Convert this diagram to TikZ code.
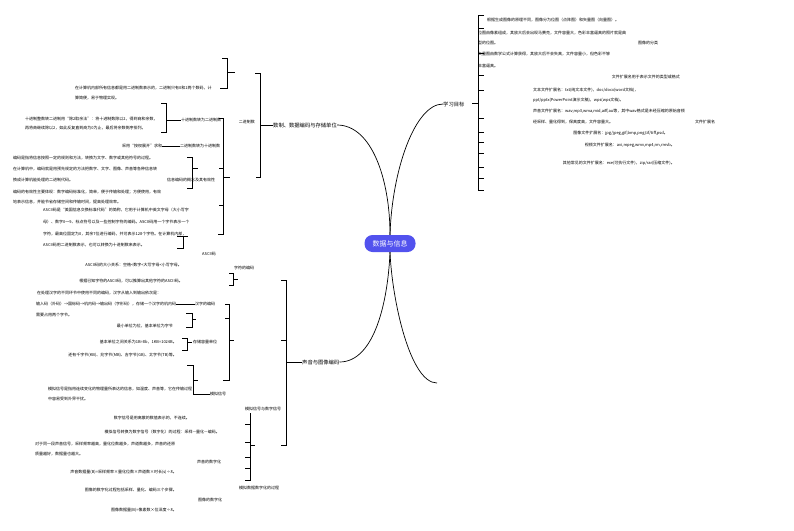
\documentclass[tikz,border=0pt]{standalone}
\usepackage{fontspec}
\setmainfont{Noto Sans CJK SC}
\definecolor{rootblue}{HTML}{5252EE}
\begin{document}
\begin{tikzpicture}[x=1pt,y=-1pt,
  t/.style={inner sep=0pt,font=\fontsize{4}{4.8}\selectfont},
  lone/.style={inner sep=0pt,font=\fontsize{5.3}{6}\selectfont},
  br/.style={line width=0.55pt,black},
  cv/.style={line width=0.7pt,black}]
\fill[white] (0,0) rectangle (794,530);
\useasboundingbox (0,0) rectangle (794,530);

% root
\node[fill=rootblue,text=white,rounded corners=8pt,minimum width=51pt,minimum height=17pt,inner sep=0pt,font=\fontsize{7}{8}\selectfont] (root) at (390,243.5) {数据与信息};

% level-1 topics
\node[lone,anchor=west] (shuzhi) at (273,125) {数制、数据编码与存储单位};
\node[lone,anchor=west] (mubiao) at (443,104) {学习目标};
\node[lone,anchor=west] (shengyin) at (302,362) {声音与图像编码};
\coordinate (empty) at (437,383);

\draw[cv] (root.north) .. controls (390,180) and (372,125) .. (shuzhi.east);
\draw[cv] (root.north) .. controls (392,170) and (415,104) .. (mubiao.west);
\draw[cv] (root.south) .. controls (388,300) and (375,362) .. (shengyin.east);
\draw[cv] (root.south) .. controls (392,300) and (410,383) .. (empty);

% ---------------- right side: 学习目标 ----------------
\draw[br] (484,15)--(478,15)--(478,190)--(484,190);
\foreach \yy in {28,53,75,90,118,132,142,153,167,178} \draw[br] (478,\yy)--(484,\yy);
\draw[br] (472,103)--(478,103);
\node[t,anchor=west] (r1) at (487,20) {根据生成图像的原理不同，图像分为位图（点阵图）和矢量图（向量图）。};
\node[t,anchor=west] (r2) at (478,33) {位图由像素组成，其放大后会出现马赛克，文件容量大，色彩丰富逼真的照片就是典};
\node[t,anchor=west] (r3) at (478,43) {型的位图。};
\node[t,anchor=west] (r4) at (638,43) {图像的分类};
\node[t,anchor=west] (r5) at (478,54) {矢量图由数学公式计算获得，其放大后不会失真，文件容量小，但色彩不够};
\node[t,anchor=west] (r6) at (478,66) {丰富逼真。};
\node[t,anchor=east] (r7) at (680,77) {文件扩展名用于表示文件的类型或格式};
\node[t,anchor=west] (r8) at (533,90) {文本文件扩展名：txt(纯文本文件)，doc/docx(word文档)，};
\node[t,anchor=west] (r9) at (533,100) {ppt/pptx(PowerPoint演示文稿)，wps(wps文档)。};
\node[t,anchor=west] (r10) at (533,111) {声音文件扩展名：wav,mp3,wma,mid,aiff,au等，其中wav格式是未经压缩的原始音频};
\node[t,anchor=west] (r11) at (533,122) {经采样、量化得到，保真度高，文件容量大。};
\node[t,anchor=west] (r12) at (695,122) {文件扩展名};
\node[t,anchor=east] (r13) at (668,133) {图像文件扩展名：jpg/jpeg,gif,bmp,png,tif/tiff,psd。};
\node[t,anchor=east] (r14) at (675,145) {视频文件扩展名：avi,mpeg,wmv,mp4,rm,rmvb。};
\node[t,anchor=east] (r15) at (675,163) {其他常见的文件扩展名：exe(可执行文件)，zip/rar(压缩文件)。};

% ---------------- left upper: 数制 ----------------
% bracket A
\draw[br] (222,58)--(227,58)--(227,88)--(220,88);
\draw[br] (227,72)--(235,72);
% bracket B
\draw[br] (255,73)--(260,73)--(260,177)--(256,177);
\draw[br] (260,125)--(shuzhi.west);
% bracket C
\draw[br] (161,103)--(166,103)--(166,132)--(161,132);
% bracket D
\draw[br] (219,118)--(223,118)--(223,234)--(218,234);
\draw[br] (219,168)--(223,168);
\draw[br] (219,205)--(223,205);
\draw[br] (223,177)--(230,177);
% bracket E
\draw[br] (187,157)--(192,157)--(192,188)--(187,188);
\draw[br] (192,168)--(198,168);
% bracket F
\draw[br] (177,236)--(188,236);
\draw[br] (183,236)--(183,248)--(177,248);

\node[t,anchor=west] (a1) at (75,88) {在计算机内部所有信息都是用二进制数表示的，二进制只有0和1两个数码，计};
\node[t,anchor=west] (a2) at (75,98.5) {算简便，易于物理实现。};
\node[t,anchor=east] (erjin) at (255,122) {二进制数};
\node[t,anchor=west] (c1) at (25,119) {十进制整数转二进制用“除2取余法”：将十进制数除以2，得到商和余数，};
\node[t,anchor=west] (c2) at (25,128.5) {再将商继续除以2，如此反复直到商为0为止，最后将余数倒序排列。};
\node[t,anchor=west] (shizhuan) at (181,120) {十进制数转为二进制数};
\draw[br] (166,120)--(shizhuan.west);
\node[t,anchor=west] (anquan) at (122,146) {采用“按权展开”求和};
\node[t,anchor=west] (erzhuan) at (180,146) {二进制数转为十进制数};
\draw[br] (anquan.east)--(erzhuan.west);
\node[t,anchor=west] (e1) at (13,158) {编码是指将信息按照一定的规则和方法，转换为文字、数字或其他符号的过程。};
\node[t,anchor=west] (e2) at (13,169) {在计算机中，编码就是用预先规定的方法把数字、文字、图像、声音等各种信息转};
\node[t,anchor=west] (e3) at (13,180) {换成计算机能处理的二进制代码。};
\node[t,anchor=west] (gainian) at (167,180) {信息编码的概念及其有效性};
\node[t,anchor=west] (e4) at (13,192) {编码的有效性主要体现：数字编码标准化，简单，便于传输和处理；方便使用，有效};
\node[t,anchor=west] (e5) at (13,202) {地表示信息，并能节省存储空间和传输时间，提高处理效率。};
\node[t,anchor=west] (f1) at (43,210) {ASCII码是“美国信息交换标准代码”的简称，它用于计算机中英文字母（大小写字};
\node[t,anchor=west] (f2) at (43,222) {母）、数字0～9、标点符号以及一些控制字符的编码。ASCII码用一个字节表示一个};
\node[t,anchor=west] (f3) at (43,234) {字符，最高位固定为0，其余7位进行编码，共可表示128个字符。在计算机内部，};
\node[t,anchor=west] (f4) at (43,245) {ASCII码用二进制数表示，也可以转换为十进制数来表示。};
\node[t,anchor=west] (ascii) at (202,254) {ASCII码};

% ---------------- left lower: 编码 ----------------
% bracket G
\draw[br] (229,273)--(233,273)--(233,285)--(229,285);
\draw[br] (233,279)--(238,279);
% bracket H
\draw[br] (281,280)--(286,280)--(286,445)--(281,445);
\draw[br] (281,340)--(286,340);
\draw[br] (286,362)--(shengyin.west);
% bracket I
\draw[br] (186,313)--(192,313)--(192,327)--(186,327);
\draw[br] (192,319)--(196,319);
% bracket J
\draw[br] (225,304)--(229,304)--(229,380)--(223,380);
\draw[br] (225,318)--(229,318);
\draw[br] (229,340)--(234,340);
% bracket K
\draw[br] (182,338)--(187,338)--(187,350)--(182,350);
\draw[br] (187,342)--(192,342);
% bracket L
\draw[br] (187,365)--(193,365)--(193,394);
\draw[br] (193,380)--(198,380);
% bracket M
\draw[br] (250,413)--(250,480)--(245,480);
\foreach \yy in {424,442,457,468} \draw[br] (245,\yy)--(250,\yy);
\draw[br] (250,445)--(255,445);

\node[t,anchor=east] (g1) at (182,265) {ASCII码的大小关系：空格<数字<大写字母<小写字母。};
\node[t,anchor=west] (zifu) at (234,268) {字符的编码};
\node[t,anchor=east] (g2) at (183,281) {根据已知字符的ASCII码，可以推算出其他字符的ASCII码。};
\node[t,anchor=west] (h1) at (37,293) {在处理汉字的不同环节中使用不同的编码，汉字从输入到输出依次是：};
\node[t,anchor=west] (h2) at (36,304) {输入码（外码）→国标码→机内码→输出码（字形码），存储一个汉字的机内码};
\node[t,anchor=west] (hanzi) at (195,304) {汉字的编码};
\draw[br] (h2.east)--(hanzi.west);
\node[t,anchor=west] (h3) at (36,315) {需要占用两个字节。};
\node[t,anchor=east] (k0) at (173,326) {最小单位为位，基本单位为字节};
\node[t,anchor=west] (cunchu) at (193,342) {存储容量单位};
\node[t,anchor=east] (k1) at (177,342) {基本单位之间关系为1B=8b，1KB=1024B。};
\node[t,anchor=east] (k2) at (177,355) {还有千字节(KB)、兆字节(MB)、吉字节(GB)、太字节(TB)等。};
\node[t,anchor=west] (m1) at (48,389) {模拟信号是指用连续变化的物理量所表达的信息，如温度、声音等，它在传输过程};
\node[t,anchor=west] (m2) at (48,398.5) {中容易受到外界干扰。};
\node[t,anchor=west] (moni) at (210,394) {模拟信号};
\draw[br] (193,394)--(moni.west);
\node[t] (mnsz) at (263,409) {模拟信号与数字信号};
\node[t,anchor=east] (m3) at (190,418) {数字信号是用离散的数值表示的，不连续。};
\node[t,anchor=east] (m4) at (220,432) {模拟信号转换为数字信号（数字化）的过程：采样—量化—编码。};
\node[t,anchor=west] (s1) at (35,444) {对于同一段声音信号，采样频率越高，量化位数越多，声道数越多，声音的还原};
\node[t,anchor=west] (s2) at (35,454) {质量越好，数据量也越大。};
\node[t,anchor=west] (shengszh) at (197,462) {声音的数字化};
\node[t,anchor=east] (s3) at (177,472) {声音数据量(B)=采样频率×量化位数×声道数×时长(s)÷8。};
\node[t] (guocheng) at (259,488) {模拟数据数字化的过程};
\node[t,anchor=east] (s4) at (177,490) {图像的数字化过程包括采样、量化、编码三个步骤。};
\node[t,anchor=west] (tuszh) at (198,500) {图像的数字化};
\node[t,anchor=east] (s5) at (177,510) {图像数据量(B)=像素数×位深度÷8。};
\end{tikzpicture}
\end{document}
